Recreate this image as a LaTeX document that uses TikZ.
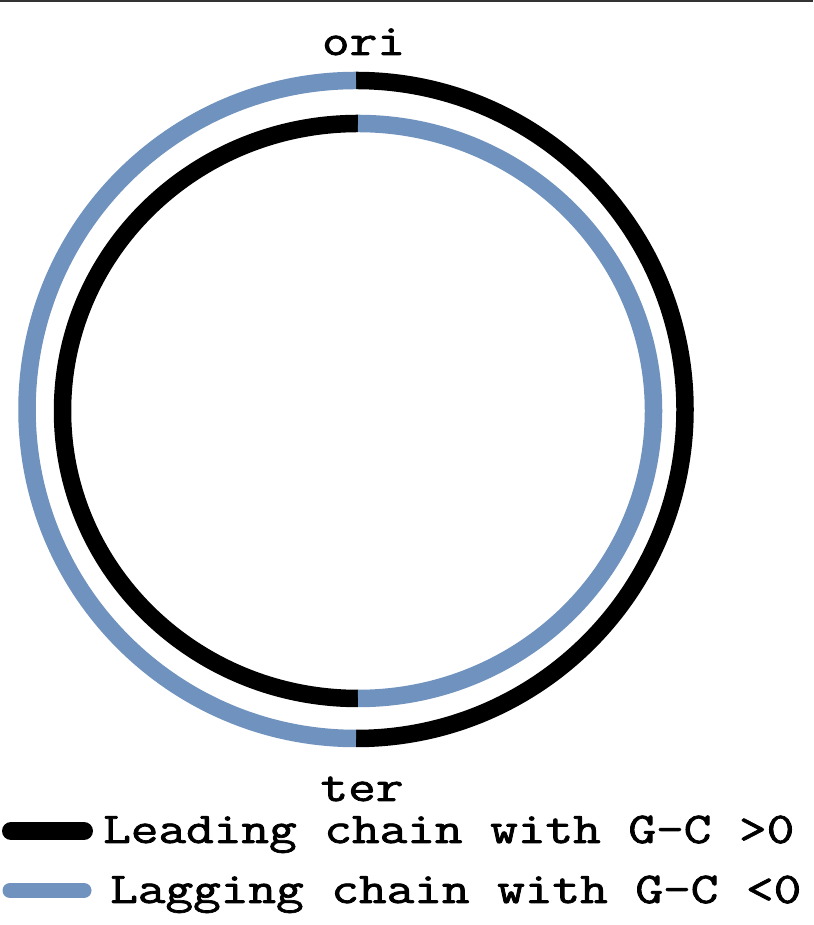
\documentclass[tikz,border=0pt]{standalone}
\usepackage{fontspec}
\usepackage{graphicx}
\newfontfamily\courish{Latin Modern Mono}[FakeBold=1.6]
\newcommand{\widen}[1]{\scalebox{1.22}[1]{#1}}
\definecolor{lagblue}{RGB}{112,146,190}
\tikzset{
  strand/.style={line width=17.5pt},
  lbl/.style={inner sep=0pt, font=\courish\fontsize{44}{48}\selectfont, anchor=base},
  legtext/.style={inner sep=0pt, font=\courish\fontsize{44}{48}\selectfont, anchor=base west},
  legline/.style={line cap=round}
}
\begin{document}
\begin{tikzpicture}[x=1pt,y=1pt]
\useasboundingbox (0,0) rectangle (813,925);
\fill[white] (0,0) rectangle (813,925);
% top border
\coordinate (tl) at (0,924);
\coordinate (tr) at (813,924);
\draw[line width=2.5pt, black!80] (tl) -- (tr);
% outer ring: centre (356,515.5), r=329
\coordinate (otop) at (356,844.5);
\draw[strand, black] (otop) arc[start angle=90, end angle=-90, radius=329];
\draw[strand, lagblue] (otop) arc[start angle=90, end angle=270, radius=329];
% inner ring: centre (358,514), rx=295.5, ry=287.5
\coordinate (itop) at (358,801.5);
\draw[strand, black] (itop) arc[start angle=90, end angle=270, x radius=295.5, y radius=287.5];
\draw[strand, lagblue] (itop) arc[start angle=90, end angle=-90, x radius=295.5, y radius=287.5];
% labels
\node[lbl] (ori) at (363.5,870) {\widen{ori}};
\node[lbl] (ter) at (362,124) {\widen{ter}};
% legend
\coordinate (l1a) at (11,94);
\coordinate (l1b) at (84,94);
\draw[legline, line width=18pt, black] (l1a) -- (l1b);
\coordinate (l2a) at (10,34.5);
\coordinate (l2b) at (84,34.5);
\draw[legline, line width=15pt, lagblue] (l2a) -- (l2b);
\node[legtext] (lead) at (103,82) {\widen{Leading chain with G-C >0}};
\node[legtext] (lag) at (110,22) {\widen{Lagging chain with G-C <0}};
\end{tikzpicture}
\end{document}
